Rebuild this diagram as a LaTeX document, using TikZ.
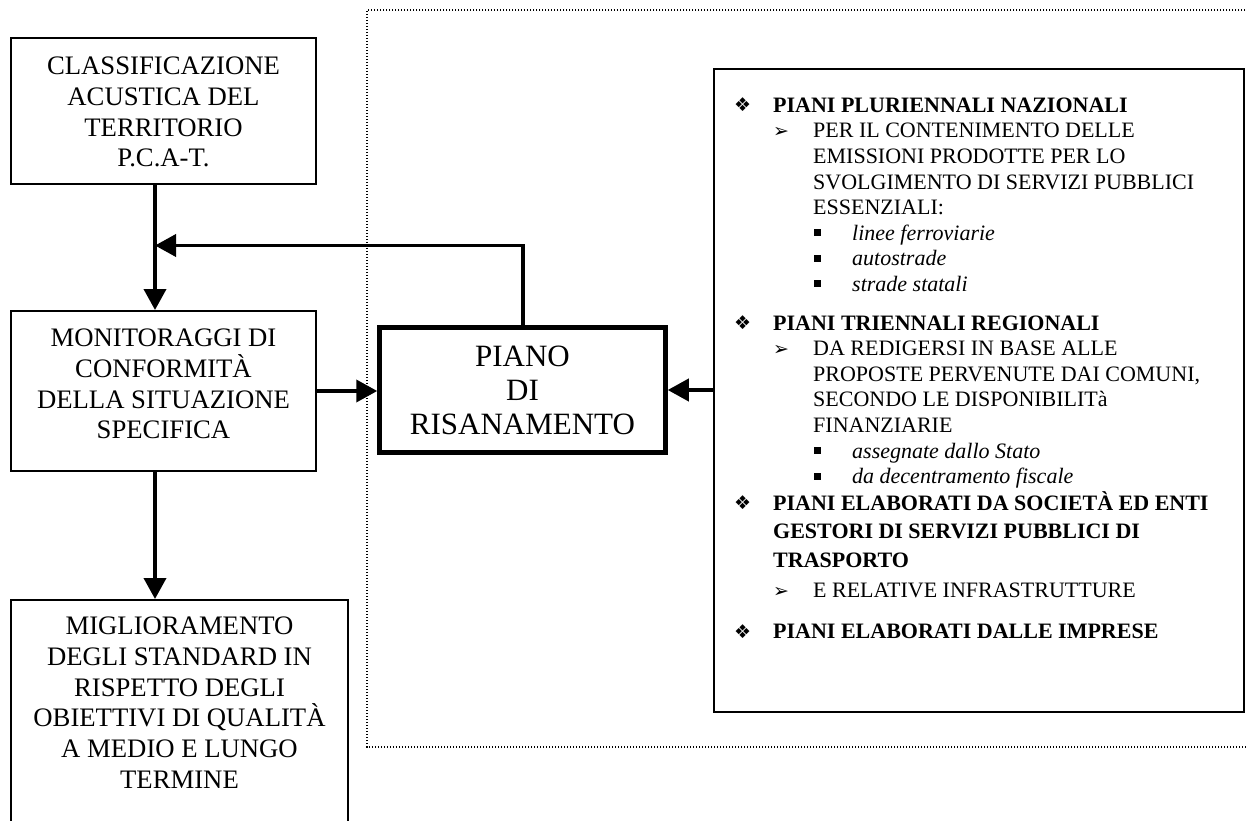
\documentclass[tikz,border=0pt]{standalone}
\usepackage{fontspec}
\setmainfont{Liberation Serif}
\newfontfamily\symfont{DejaVu Sans}
\usetikzlibrary{arrows.meta}
\newcommand{\bulq}{\raisebox{0.5pt}{\symfont\fontsize{19}{19}\selectfont ❖}}
\newcommand{\bular}{{\symfont\fontsize{19}{19}\selectfont ➢}}
\newcommand{\bulsq}{\raisebox{4pt}{\rule{7pt}{7pt}}}
\newcommand{\lvtwo}{\hspace*{39pt}\makebox[40pt][l]{\bular}}
\newcommand{\lvthree}{\hspace*{80pt}\makebox[38pt][l]{\bulsq}}

\begin{document}
\begin{tikzpicture}[x=1pt,y=-1pt,>={Triangle[length=21pt,width=22pt]},
  every node/.style={inner sep=0pt},
  box/.style={draw,line width=2pt,font=\fontsize{26.7}{30.7}\selectfont},
  arr/.style={->,line width=3.8pt},
  list/.style={align=left,font=\fontsize{22}{25.6}\selectfont}]
  \clip (0,0) rectangle (1247,821);
  \draw[line width=1.2pt,dash pattern=on 1.2pt off 1.8pt] (1260,10) -- (367,10) -- (367,747) -- (1260,747);
  \node[box,anchor=north west] (cls) at (10,37) {\parbox[c][146pt][t]{305pt}{\centering\vspace*{19pt}CLASSIFICAZIONE\\ACUSTICA DEL\\TERRITORIO\\P.C.A-T.}};
  \node[box,anchor=north west] (mon) at (10,310) {\parbox[c][160pt][t]{305pt}{\centering\vspace*{18pt}MONITORAGGI DI\\CONFORMITÀ\\DELLA SITUAZIONE\\SPECIFICA}};
  \node[box,anchor=north west] (obj) at (10,599) {\parbox[c][250pt][t]{337pt}{\centering\vspace*{17pt}MIGLIORAMENTO\\DEGLI STANDARD IN\\RISPETTO DEGLI\\OBIETTIVI DI QUALITÀ\\A MEDIO E LUNGO\\TERMINE}};
  \node[box,line width=4.5pt,minimum width=286pt,minimum height=125pt,font=\fontsize{31}{34}\selectfont] (pr) at (522.5,390) {\raisebox{-3pt}{\parbox{280pt}{\centering PIANO\\DI\\RISANAMENTO}}};
  \node[draw,line width=1.8pt,minimum width=530pt,minimum height=643pt] (plans) at (979,390.5) {};
  \node[list,anchor=north west] (planlist) at (734,96) {%
    \rule{0pt}{16pt}\makebox[39pt][l]{\bulq}\textbf{PIANI PLURIENNALI NAZIONALI}\\
    \lvtwo PER IL CONTENIMENTO DELLE\\
    \hspace*{79pt}EMISSIONI PRODOTTE PER LO\\
    \hspace*{79pt}SVOLGIMENTO DI SERVIZI PUBBLICI\\
    \hspace*{79pt}ESSENZIALI:\\
    \lvthree\textit{linee ferroviarie}\\
    \lvthree\textit{autostrade}\\
    \lvthree\textit{strade statali}\\[13pt]
    \makebox[39pt][l]{\bulq}\textbf{PIANI TRIENNALI REGIONALI}\\
    \lvtwo DA REDIGERSI IN BASE ALLE\\
    \hspace*{79pt}PROPOSTE PERVENUTE DAI COMUNI,\\
    \hspace*{79pt}SECONDO LE DISPONIBILITà\\
    \hspace*{79pt}FINANZIARIE\\
    \lvthree\textit{assegnate dallo Stato}\\
    \lvthree\textit{da decentramento fiscale}\\[1pt]
    \makebox[39pt][l]{\bulq}\textbf{PIANI ELABORATI DA SOCIETÀ ED ENTI}\\[3pt]
    \hspace*{39pt}\textbf{GESTORI DI SERVIZI PUBBLICI DI}\\[3pt]
    \hspace*{39pt}\textbf{TRASPORTO}\\[4pt]
    \lvtwo E RELATIVE INFRASTRUTTURE\\[16pt]
    \makebox[39pt][l]{\bulq}\textbf{PIANI ELABORATI DALLE IMPRESE}};
  \coordinate (spine) at (155,0);
  \coordinate (fb) at (522.7,245.5);
  \draw[arr] (cls.south -| spine) -- (mon.north -| spine);
  \draw[arr] (mon.south -| spine) -- (obj.north -| spine);
  \draw[arr] (mon.east) -- (mon.east -| pr.west);
  \draw[arr] (plans.west |- pr.east) -- (pr.east);
  \draw[arr] (fb |- pr.north) -- (fb) -- (fb -| spine);
\end{tikzpicture}
\end{document}
